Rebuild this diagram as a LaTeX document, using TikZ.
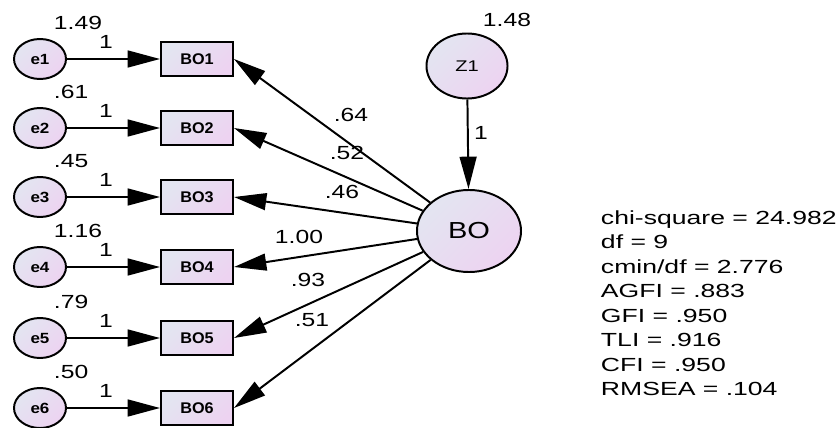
\documentclass[tikz,border=0pt]{standalone}
\usepackage{fontspec}
\setmainfont{Liberation Sans}
\usepackage{graphicx}
\usetikzlibrary{arrows.meta,shapes.geometric}
\newcommand{\widetxt}[2][1.3]{\scalebox{#1}[1]{#2}}

\begin{document}
\begin{tikzpicture}[x=0.025cm,y=-0.025cm,line width=1.4pt,
  errnode/.style={ellipse,draw,top color=lavtop,bottom color=lavbot,shading angle=45,minimum width=1.3cm,minimum height=1cm,inner sep=0pt,font=\bfseries\fontsize{10.5}{12}\selectfont},
  obsnode/.style={rectangle,draw,top color=lavtop,bottom color=lavbot,shading angle=45,minimum width=1.8cm,minimum height=0.85cm,inner sep=0pt,font=\bfseries\fontsize{11}{13}\selectfont},
  latnode/.style={ellipse,draw,top color=lavtop,bottom color=lavbot,shading angle=45,inner sep=0pt},
  valtxt/.style={inner sep=0pt,font=\fontsize{13.5}{16}\selectfont},
  regarrow/.style={-{Triangle[length=23pt,width=12pt]}}]
\definecolor{lavtop}{HTML}{E3E5F1}
\definecolor{lavbot}{HTML}{EDD3F1}
\useasboundingbox (0,0) rectangle (840,427);
\node[latnode,minimum width=2.025cm,minimum height=1.625cm,font=\fontsize{11}{13}\selectfont] (z1) at (467,66) {\widetxt{Z1}};
\node[latnode,minimum width=2.6cm,minimum height=2.05cm,font=\fontsize{16.5}{18}\selectfont] (bo) at (469,231) {\widetxt[1.25]{BO}};
\node[valtxt] (vz1) at (507,20) {\widetxt{1.48}};
\draw[regarrow] (z1) -- (bo);
\node[valtxt] (one0) at (481,133) {\widetxt{1}};
\foreach \i/\var/\row in {1/1.49/59,2/.61/128,3/.45/197,4/1.16/267,5/.79/338,6/.50/408}
{ \node[errnode] (e\i) at (40,\row) {\widetxt[1.15]{e\i}};
  \node[obsnode] (bo\i) at (197,\row) {\widetxt[1.05]{BO\i}};
  \node[valtxt,anchor=west] (v\i) at (53,\row-36) {\widetxt{\var}};
  \draw[regarrow] (e\i) -- (bo\i);
  \node[valtxt] (one\i) at (106,\row-17) {\widetxt{1}};
  \draw[regarrow] (bo) -- (bo\i.east);
}
\foreach \i/\load/\lx/\ly in {1/.64/351/115,2/.52/347/153,3/.46/342/192,4/1.00/299/237,5/.93/308/280,6/.51/312/320}
  \node[valtxt] (w\i) at (\lx,\ly) {\widetxt{\load}};
\foreach \fitline [count=\k] in {chi-square = 24.982,df = 9,cmin/df = 2.776,AGFI = .883,GFI = .950,TLI = .916,CFI = .950,RMSEA = .104}
  \node[valtxt,anchor=base west] (fit\k) at (600,224+24.5*\k-24.5) {\widetxt[1.4]{\fitline}};
\end{tikzpicture}
\end{document}
